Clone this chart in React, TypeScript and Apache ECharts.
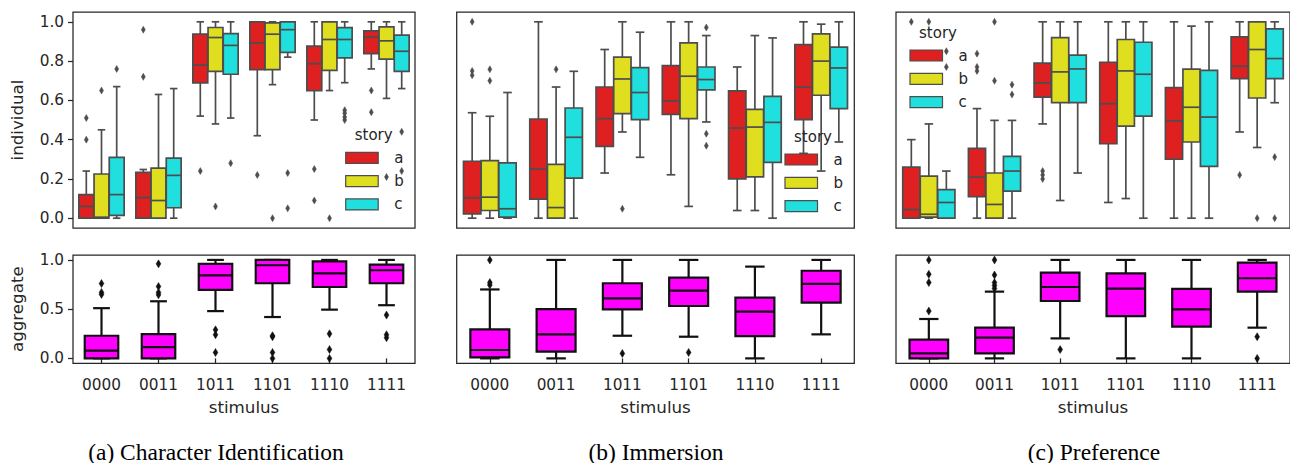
import React, { useEffect, useRef } from "react";
import * as echarts from "echarts";

const stimuli = ["0000", "0011", "1011", "1101", "1110", "1111"];
const stories = ["a", "b", "c"];
const storyColors = ["#df2020", "#dfdf20", "#20dfdf"];
const aggColor = "#ff00ff";
const panelTitles = ["(a) Character Identification", "(b) Immersion", "(c) Preference"];
const topTicks = [0, 0.2, 0.4, 0.6, 0.8, 1.0];
const bottomTicks = [0, 0.5, 1.0];

// each row: [lowWhisker, q1, median, q3, highWhisker] per stimulus
const ciA = [[0, 0, 0.06, 0.12, 0.24], [0, 0, 0.105, 0.233, 0.248], [0.52, 0.689, 0.78, 0.937, 1.0], [0.42, 0.757, 0.893, 1.0, 1.0], [0.5, 0.65, 0.787, 0.876, 1.0], [0.76, 0.838, 0.923, 0.954, 1.0]];
const ciB = [[0, 0, 0.005, 0.225, 0.45], [0, 0, 0.09, 0.255, 0.63], [0.48, 0.748, 0.92, 0.971, 1.0], [0.68, 0.757, 0.937, 0.995, 1.0], [0.65, 0.753, 0.91, 1.0, 1.0], [0.61, 0.81, 0.903, 0.974, 1.0]];
const ciC = [[0, 0.014, 0.12, 0.31, 0.67], [0, 0.053, 0.218, 0.306, 0.66], [0.51, 0.733, 0.88, 0.94, 1.0], [0.82, 0.844, 0.96, 1.0, 1.0], [0.69, 0.816, 0.91, 0.97, 1.0], [0.66, 0.748, 0.85, 0.932, 1.0]];
const ciAgg = [[0, 0, 0.078, 0.23, 0.51], [0, 0, 0.115, 0.247, 0.58], [0.48, 0.695, 0.844, 0.96, 1.0], [0.42, 0.763, 0.946, 1.0, 1.0], [0.495, 0.725, 0.864, 0.986, 1.0], [0.54, 0.763, 0.895, 0.953, 1.0]];
// outliers: [stimulusIndex, value]
const ciAOut = [[0, 0.51], [0, 0.4], [1, 0.96], [1, 0.72], [2, 0.24], [3, 0.22], [4, 0.25], [4, 0.09], [5, 0.65], [5, 0.54]];
const ciBOut = [[0, 0.65], [2, 0.06], [3, 0.0], [4, 0.0], [5, 0.21]];
const ciCOut = [[0, 0.76], [2, 0.28], [3, 0.23], [3, 0.05], [4, 0.55], [4, 0.535], [4, 0.515], [4, 0.5], [5, 0.44], [5, 0.24]];
const ciAggOut = [[0, 0.76], [0, 0.67], [0, 0.65], [1, 0.96], [1, 0.73], [1, 0.67], [1, 0.645], [2, 0.29], [2, 0.24], [2, 0.06], [3, 0.23], [3, 0.22], [3, 0.06], [3, 0.0], [4, 0.25], [4, 0.09], [4, 0.0], [5, 0.44], [5, 0.24], [5, 0.21]];

const imA = [[0, 0.022, 0.104, 0.29, 0.537], [0, 0.097, 0.25, 0.505, 1.0], [0.23, 0.366, 0.507, 0.668, 0.859], [0.221, 0.529, 0.597, 0.777, 1.0], [0.039, 0.2, 0.459, 0.648, 0.77], [0.33, 0.502, 0.668, 0.884, 1.0]];
const imB = [[0, 0.039, 0.107, 0.293, 0.519], [0, 0, 0.054, 0.274, 0.668], [0.439, 0.532, 0.709, 0.82, 1.0], [0.06, 0.507, 0.723, 0.893, 1.0], [0.039, 0.21, 0.464, 0.554, 0.93], [0.24, 0.626, 0.8, 0.939, 0.988]];
const imC = [[0, 0.005, 0.048, 0.282, 0.64], [0, 0.204, 0.412, 0.561, 0.748], [0.31, 0.502, 0.64, 0.767, 0.947], [0.49, 0.653, 0.706, 0.77, 0.93], [0, 0.284, 0.488, 0.62, 0.918], [0.388, 0.558, 0.765, 0.871, 1.0]];
const imAgg = [[0, 0.01, 0.085, 0.295, 0.7], [0, 0.068, 0.244, 0.5, 1.0], [0.23, 0.498, 0.61, 0.763, 1.0], [0.22, 0.532, 0.688, 0.82, 1.0], [0, 0.227, 0.475, 0.617, 0.932], [0.244, 0.566, 0.756, 0.89, 1.0]];
const imAOut = [[0, 1.0], [0, 0.75], [0, 0.728]];
const imBOut = [[0, 0.758], [0, 0.7], [1, 0.758], [2, 0.048]];
const imCOut = [[3, 0.971], [3, 0.43], [3, 0.369]];
const imAggOut = [[0, 1.0], [0, 0.77], [0, 0.746], [2, 0.05], [3, 0.06]];

const prA = [[0, 0, 0.044, 0.26, 0.4], [0, 0.11, 0.209, 0.355, 0.558], [0.48, 0.617, 0.689, 0.79, 1.0], [0.08, 0.379, 0.583, 0.794, 1.0], [0, 0.3, 0.495, 0.665, 1.0], [0.439, 0.711, 0.774, 0.923, 1.0]];
const prB = [[0, 0.005, 0.02, 0.214, 0.48], [0, 0, 0.07, 0.23, 0.498], [0.09, 0.588, 0.745, 0.92, 1.0], [0.1, 0.469, 0.75, 0.91, 1.0], [0, 0.388, 0.565, 0.759, 0.978], [0.36, 0.612, 0.859, 1.0, 1.0]];
const prC = [[0, 0, 0.08, 0.145, 0.24], [0, 0.138, 0.24, 0.315, 0.498], [0.23, 0.588, 0.76, 0.83, 1.0], [0, 0.52, 0.733, 0.896, 1.0], [0, 0.264, 0.515, 0.753, 1.0], [0.588, 0.711, 0.813, 0.964, 1.0]];
const prAgg = [[0, 0, 0.05, 0.19, 0.4], [0, 0.05, 0.21, 0.312, 0.678], [0.203, 0.583, 0.725, 0.871, 1.0], [0, 0.43, 0.708, 0.864, 1.0], [0, 0.322, 0.498, 0.705, 1.0], [0.312, 0.678, 0.814, 0.973, 1.0]];
const prAOut = [[0, 1.0], [1, 0.838], [1, 0.77], [1, 0.75], [2, 0.24], [2, 0.22], [2, 0.2], [5, 0.22]];
const prBOut = [[0, 1.0], [1, 1.0], [1, 0.7], [5, 0.0]];
const prCOut = [[0, 0.85], [0, 0.77], [1, 0.68], [1, 0.63], [5, 0.311], [5, 0.0]];
const prAggOut = [[0, 1.0], [0, 0.854], [0, 0.77], [0, 0.48], [1, 1.0], [1, 0.847], [1, 0.77], [1, 0.74], [1, 0.71], [2, 0.09], [5, 0.22], [5, 0.0]];

const panels = [
  { boxes: [ciA, ciB, ciC], outs: [ciAOut, ciBOut, ciCOut], agg: ciAgg, aggOut: ciAggOut },
  { boxes: [imA, imB, imC], outs: [imAOut, imBOut, imCOut], agg: imAgg, aggOut: imAggOut },
  { boxes: [prA, prB, prC], outs: [prAOut, prBOut, prCOut], agg: prAgg, aggOut: prAggOut },
];

// layout (pixels)
const panelLeft = [73, 456.7, 896];
const panelWidth = [342, 397.6, 397];
const rowTop = [12, 255];
const rowHeight = [216, 108.3];
const captionX = [216, 656, 1094];
const legendPos = [
  { x: 345.7, y: 135 },
  { x: 785, y: 136.7 },
  { x: 910, y: 32.7 },
];

const FONT = "DejaVu Sans";
const TXT = "#262626";
const GRAY = "#4d4d4d";
const BLACK = "#111111";

function boxRenderer(g: number, n: number, total: number, fill: string, edge: string, lw: number) {
  return (params: any, api: any) => {
    const cat = api.value(0);
    const band = api.size([1, 0])[0];
    const w = (band * total) / n;
    const cx = api.coord([cat, 0])[0] + (g - (n - 1) / 2) * w;
    const bw = w * 0.98;
    const y = (i: number) => api.coord([cat, api.value(i)])[1];
    const yLow = y(1), yQ1 = y(2), yMed = y(3), yQ3 = y(4), yHigh = y(5);
    const ls = { stroke: edge, lineWidth: lw };
    return {
      type: "group",
      children: [
        { type: "line", shape: { x1: cx, y1: yQ3, x2: cx, y2: yHigh }, style: ls },
        { type: "line", shape: { x1: cx, y1: yQ1, x2: cx, y2: yLow }, style: ls },
        { type: "line", shape: { x1: cx - bw / 4, y1: yHigh, x2: cx + bw / 4, y2: yHigh }, style: ls },
        { type: "line", shape: { x1: cx - bw / 4, y1: yLow, x2: cx + bw / 4, y2: yLow }, style: ls },
        { type: "rect", shape: { x: cx - bw / 2, y: yQ3, width: bw, height: yQ1 - yQ3 }, style: { fill, stroke: edge, lineWidth: lw } },
        { type: "line", shape: { x1: cx - bw / 2, y1: yMed, x2: cx + bw / 2, y2: yMed }, style: ls },
      ],
    };
  };
}

function outlierRenderer(g: number, n: number, total: number, color: string, hw: number, hh: number) {
  return (params: any, api: any) => {
    const cat = api.value(0);
    const band = api.size([1, 0])[0];
    const w = (band * total) / n;
    const p = api.coord([cat, api.value(1)]);
    const cx = p[0] + (g - (n - 1) / 2) * w;
    const cy = p[1];
    return {
      type: "polygon",
      shape: { points: [[cx, cy - hh], [cx + hw, cy], [cx, cy + hh], [cx - hw, cy]] },
      style: { fill: color, stroke: color, lineWidth: 0.5 },
    };
  };
}

function buildOption() {
  const grid: any[] = [];
  const xAxis: any[] = [];
  const yAxis: any[] = [];
  const series: any[] = [];
  const graphic: any[] = [];

  panels.forEach((panel, p) => {
    [0, 1].forEach((r) => {
      const gi = p * 2 + r;
      grid.push({
        left: panelLeft[p],
        top: rowTop[r],
        width: panelWidth[p],
        height: rowHeight[r],
        show: true,
        borderColor: TXT,
        borderWidth: 1.25,
        backgroundColor: "transparent",
      });
      xAxis.push({
        type: "category",
        gridIndex: gi,
        data: stimuli,
        axisLine: { show: false },
        axisTick: { show: r === 1, alignWithLabel: true, length: 5, lineStyle: { color: TXT, width: 1.25 } },
        axisLabel: { show: r === 1, fontFamily: FONT, fontSize: 15.3, color: TXT, margin: 14 },
        splitLine: { show: false },
        name: r === 1 ? "stimulus" : "",
        nameLocation: "middle",
        nameGap: 35,
        nameTextStyle: { fontFamily: FONT, fontSize: 16.7, color: TXT },
      });
      const ticks = r === 0 ? topTicks : bottomTicks;
      yAxis.push({
        type: "value",
        gridIndex: gi,
        min: -0.05,
        max: 1.05,
        axisLine: { show: false },
        splitLine: { show: false },
        axisTick: { show: p === 0, customValues: ticks, length: 5, lineStyle: { color: TXT, width: 1.25 } },
        axisLabel: {
          show: p === 0,
          customValues: ticks,
          formatter: (v: number) => v.toFixed(1),
          fontFamily: FONT,
          fontSize: 15.3,
          color: TXT,
          margin: 9,
        },
        name: p === 0 ? (r === 0 ? "individual" : "aggregate") : "",
        nameLocation: "middle",
        nameGap: 48,
        nameTextStyle: { fontFamily: FONT, fontSize: 16.7, color: TXT },
      });

      if (r === 0) {
        panel.boxes.forEach((rows, s) => {
          series.push({
            type: "custom",
            name: stories[s],
            xAxisIndex: gi,
            yAxisIndex: gi,
            renderItem: boxRenderer(s, 3, 0.8, storyColors[s], GRAY, 1.7),
            encode: { x: 0, y: [1, 2, 3, 4, 5] },
            data: rows.map((row, i) => [i, ...row]),
            z: 2,
          });
          series.push({
            type: "custom",
            name: stories[s] + "-out",
            xAxisIndex: gi,
            yAxisIndex: gi,
            renderItem: outlierRenderer(s, 3, 0.8, GRAY, 2, 3.5),
            encode: { x: 0, y: 1 },
            data: panel.outs[s],
            z: 3,
          });
        });
      } else {
        series.push({
          type: "custom",
          name: "aggregate",
          xAxisIndex: gi,
          yAxisIndex: gi,
          renderItem: boxRenderer(0, 1, 0.6, aggColor, BLACK, 2.2),
          encode: { x: 0, y: [1, 2, 3, 4, 5] },
          data: panel.agg.map((row, i) => [i, ...row]),
          z: 2,
        });
        series.push({
          type: "custom",
          name: "aggregate-out",
          xAxisIndex: gi,
          yAxisIndex: gi,
          renderItem: outlierRenderer(0, 1, 0.6, BLACK, 2.4, 4),
          encode: { x: 0, y: 1 },
          data: panel.aggOut,
          z: 3,
        });
      }
    });

    // legend
    const lp = legendPos[p];
    graphic.push({
      type: "text",
      z: 100,
      x: lp.x + 28,
      y: lp.y,
      style: { text: "story", font: `15px "${FONT}"`, fill: TXT, align: "center", verticalAlign: "middle" },
    });
    stories.forEach((s, i) => {
      const cy = lp.y + 22.8 + i * 23.3;
      graphic.push({
        type: "rect",
        z: 100,
        shape: { x: lp.x, y: cy - 5.5, width: 32.5, height: 11 },
        style: { fill: storyColors[i], stroke: GRAY, lineWidth: 1.2 },
      });
      graphic.push({
        type: "text",
        z: 100,
        x: lp.x + 48.5,
        y: cy,
        style: { text: s, font: `15px "${FONT}"`, fill: TXT, align: "left", verticalAlign: "middle" },
      });
    });

    graphic.push({
      type: "text",
      z: 100,
      x: captionX[p],
      y: 451.5,
      style: {
        text: panelTitles[p],
        font: `23.5px "Liberation Serif"`,
        fill: "#000",
        align: "center",
        verticalAlign: "middle",
      },
    });
  });

  return {
    animation: false,
    backgroundColor: "#ffffff",
    grid,
    xAxis,
    yAxis,
    series,
    graphic,
  };
}

export default function App() {
  const ref = useRef<HTMLDivElement>(null);
  useEffect(() => {
    if (!ref.current) return;
    const chart = echarts.init(ref.current, undefined, { renderer: "svg" });
    chart.setOption(buildOption() as any);
    return () => chart.dispose();
  }, []);
  return (
    <div
      ref={ref}
      style={{ position: "fixed", left: 0, top: 0, width: 1290, height: 463, background: "#fff" }}
    />
  );
}
